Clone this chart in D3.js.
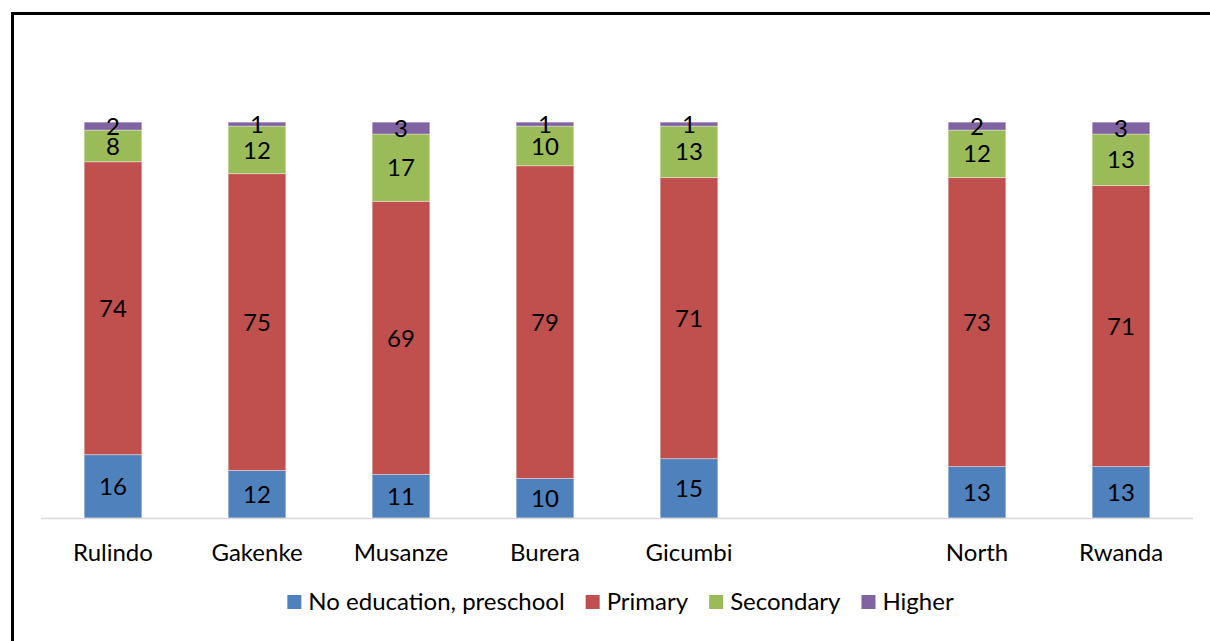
<!DOCTYPE html>
<html><head><meta charset="utf-8">
<script src="https://cdn.jsdelivr.net/npm/d3@7"></script>
<style>body{margin:0;background:#fff}svg{display:block}text{font-family:Lato,"Open Sans",sans-serif;fill:#000}</style>
</head><body><svg id="c" width="1210" height="641"></svg>
<script>
const categories = ["Rulindo","Gakenke","Musanze","Burera","Gicumbi","","North","Rwanda"];
const seriesNames = ["No education, preschool","Primary","Secondary","Higher"];
const noEducation = [16,12,11,10,15,null,13,13];
const primary     = [74,75,69,79,71,null,73,71];
const secondary   = [8,12,17,10,13,null,12,13];
const higher      = [2,1,3,1,1,null,2,3];
const colors = ["#4F81BD","#C0504D","#9BBB59","#8064A2"];

const svg = d3.select("#c");
svg.append("rect").attr("x",0).attr("y",0).attr("width",1210).attr("height",641).attr("fill","#fff");
// frame
svg.append("rect").attr("x",12.5).attr("y",13.5).attr("width",1300).attr("height",800)
  .attr("fill","none").attr("stroke","#000").attr("stroke-width",3);

const x = d3.scaleBand().domain(categories.map((c,i)=>i)).range([41,1193]).paddingInner(0.6).paddingOuter(0.3);
const y = d3.scaleLinear().domain([0,120]).range([518,43]);

const rows = categories.map((c,i)=>({i, c, v:[noEducation[i],primary[i],secondary[i],higher[i]]}));
const table = rows.filter(r=>r.v[0]!=null).map(r=>({i:r.i, s0:r.v[0], s1:r.v[1], s2:r.v[2], s3:r.v[3]}));
const stack = d3.stack().keys(["s0","s1","s2","s3"])(table);

stack.forEach((layer,k)=>{
  const g = svg.append("g");
  g.selectAll("rect").data(layer).join("rect")
    .attr("x",d=>x(d.data.i)).attr("width",x.bandwidth())
    .attr("y",d=>y(d[1])).attr("height",d=>y(d[0])-y(d[1]))
    .attr("fill",colors[k]).attr("stroke","rgba(255,255,255,0.35)").attr("stroke-width",1);
});
stack.forEach((layer,k)=>{
  svg.append("g").selectAll("text").data(layer).join("text")
    .attr("x",d=>x(d.data.i)+x.bandwidth()/2)
    .attr("y",d=>(y(d[0])+y(d[1]))/2).attr("dy","0.36em")
    .attr("text-anchor","middle").attr("font-size",24)
    .text(d=>d[1]-d[0]);
});

// baseline
svg.append("line").attr("x1",41).attr("x2",1193).attr("y1",518.5).attr("y2",518.5)
  .attr("stroke","#d9d9d9").attr("stroke-width",1.5);

// category axis labels
const xAxis = d3.axisBottom(x).tickSize(0).tickFormat(i=>categories[i]);
const ax = svg.append("g").attr("transform","translate(0,519)").call(xAxis);
ax.select(".domain").remove();
ax.selectAll("text").attr("font-size",24).attr("dy",0).attr("y",42).style("font-family","Lato,'Open Sans',sans-serif").attr("fill","#000");

// legend
const leg = svg.append("g");
let lx = 0;
seriesNames.forEach((n,k)=>{
  leg.append("rect").attr("x",lx).attr("y",595).attr("width",14).attr("height",14).attr("fill",colors[k]);
  const t = leg.append("text").attr("x",lx+21).attr("y",610).attr("font-size",24).text(n);
  lx += 21 + t.node().getComputedTextLength() + 21;
});
const legW = lx - 21;
leg.attr("transform",`translate(${620.5 - legW/2},0)`);
</script></body></html>
